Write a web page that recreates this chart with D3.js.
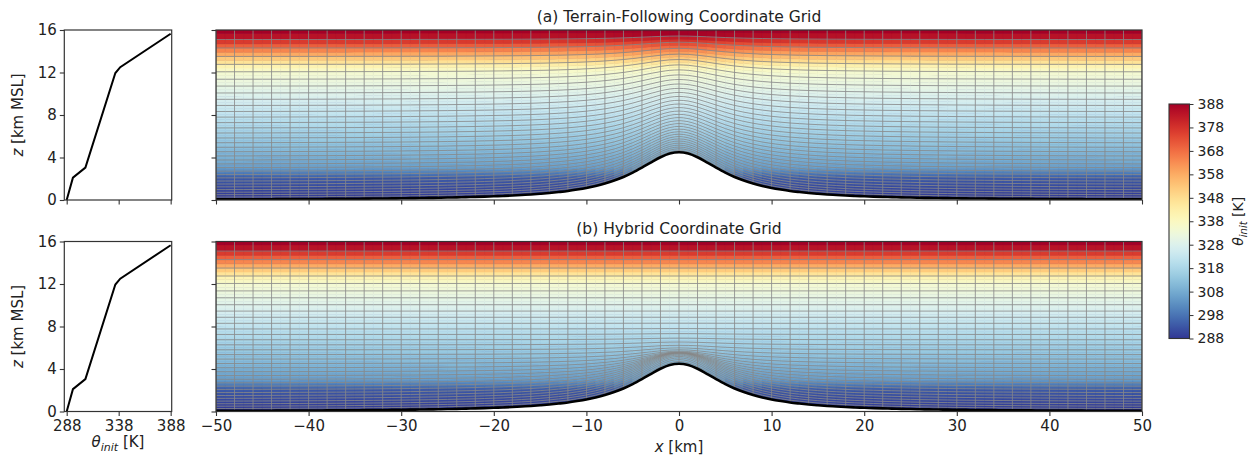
<!DOCTYPE html>
<html><head><meta charset="utf-8">
<script src="https://cdn.jsdelivr.net/npm/d3@7"></script>
<style>body{margin:0;background:#fff} text{font-family:"DejaVu Sans",sans-serif;fill:#222}</style>
</head><body><svg id="c" width="1256" height="459"></svg>
<script>
// ---- data ----
const profileZ = [0, 2.1, 3.05, 11.95, 12.5, 15.65];          // km MSL
const profileTheta = [288, 294, 306, 334.8, 339.5, 388];      // K
const terrainX = d3.range(-50, 51, 1);                        // km
const terrainH = [0.06,0.062,0.065,0.067,0.07,0.073,0.077,0.08,0.084,0.088,
  0.093,0.097,0.102,0.108,0.114,0.12,0.127,0.135,0.143,0.15,
  0.16,0.173,0.185,0.2,0.21,0.23,0.25,0.27,0.29,0.32,
  0.35,0.38,0.42,0.47,0.52,0.585,0.66,0.75,0.85,0.98,
  1.13,1.32,1.55,1.83,2.17,2.58,3.05,3.55,4.02,4.37,
  4.5,
  4.37,4.02,3.55,3.05,2.58,2.17,1.83,1.55,1.32,1.13,
  0.98,0.85,0.75,0.66,0.585,0.52,0.47,0.42,0.38,0.35,
  0.32,0.29,0.27,0.25,0.23,0.21,0.2,0.185,0.173,0.16,
  0.15,0.143,0.135,0.127,0.12,0.114,0.108,0.102,0.097,0.093,
  0.088,0.084,0.08,0.077,0.073,0.07,0.067,0.065,0.062,0.06];
const levels = [0,0.22,0.44,0.67,0.92,1.18,1.45,1.73,2.03,2.34,2.66,3.0,3.35,3.72,4.1,4.5,
  4.92,5.35,5.8,6.27,6.75,7.25,7.77,8.3,8.87,9.45,10.05,10.7,11.35,12.05,12.75,13.5,14.3,15.1,16.3];
const gridLineX = d3.range(-50, 51, 2);
const xTicks = [-50,-40,-30,-20,-10,0,10,20,30,40,50];
const zTicks = [0,4,8,12,16];
const thetaTicks = [288,338,388];
const cbarTicks = [288,298,308,318,328,338,348,358,368,378,388];
const titles = ["(a) Terrain-Following Coordinate Grid","(b) Hybrid Coordinate Grid"];

// ---- setup ----
const svg = d3.select("#c");
const H = levels[levels.length-1];
const thetaOfZ = d3.scaleLinear().domain(profileZ).range(profileTheta).clamp(true);
const color = th => d3.interpolateRdYlBu(1 - (th-288)/100);
const xMain = d3.scaleLinear().domain([-50,50]).range([216,1142]);
const xProf = d3.scaleLinear().domain([285.7,389]).range([64.3,171.7]);
const panels = [
  {top:30, bottom:200, kind:"tf"},
  {top:241.5, bottom:411.5, kind:"hy"}
];
const zh = 11;
function bHybrid(zeta){ if (zeta>=zh) return 0; return Math.pow(Math.cos(Math.PI/2*zeta/zh),6); }
function zPhys(kind, zeta, h){
  return kind==="tf" ? zeta + h*(1 - zeta/H) : zeta + h*bHybrid(zeta);
}
const defs = svg.append("defs");
const SUB = 2; // colour sub-cells per grid cell (vertical)

panels.forEach((p,pi)=>{
  const y = d3.scaleLinear().domain([0,16]).range([p.bottom,p.top]);
  const clipId = "clip"+pi;
  defs.append("clipPath").attr("id",clipId).append("rect")
    .attr("x",xMain(-50)).attr("y",p.top).attr("width",xMain(50)-xMain(-50)).attr("height",p.bottom-p.top);
  const g = svg.append("g").attr("clip-path",`url(#${clipId})`);
  g.append("rect").attr("x",xMain(-50)).attr("y",p.top).attr("width",xMain(50)-xMain(-50)).attr("height",p.bottom-p.top)
    .attr("fill",color(288));
  const cells = [];
  for (let k=0;k<terrainX.length-1;k++){
    for (let j=0;j<levels.length-1;j++){
      for (let s=0;s<SUB;s++){
        const za = levels[j] + (levels[j+1]-levels[j])*s/SUB;
        const zb = levels[j] + (levels[j+1]-levels[j])*(s+1)/SUB;
        const z00=zPhys(p.kind,za,terrainH[k]), z10=zPhys(p.kind,za,terrainH[k+1]);
        const z01=zPhys(p.kind,zb,terrainH[k]), z11=zPhys(p.kind,zb,terrainH[k+1]);
        const zc=(z00+z10+z01+z11)/4;
        cells.push({pts:[[xMain(terrainX[k]),y(z00)],[xMain(terrainX[k+1]),y(z10)],[xMain(terrainX[k+1]),y(z11)],[xMain(terrainX[k]),y(z01)]], c:color(thetaOfZ(zc))});
      }
    }
  }
  g.selectAll("polygon.cell").data(cells).join("polygon").attr("class","cell")
    .attr("points",d=>d.pts.map(q=>q.join(",")).join(" "))
    .attr("fill",d=>d.c).attr("stroke",d=>d.c).attr("stroke-width",0.6);
  const line = d3.line().curve(d3.curveMonotoneX);
  const gridG = g.append("g").attr("stroke","#888").attr("stroke-opacity",0.8).attr("stroke-width",1.0).attr("fill","none");
  levels.slice(1).forEach(zeta=>{
    gridG.append("path").attr("d", line(terrainX.map((xv,i)=>[xMain(xv), y(zPhys(p.kind,zeta,terrainH[i]))])));
  });
  gridLineX.forEach(xv=>{
    const i = terrainX.indexOf(xv);
    gridG.append("line").attr("x1",xMain(xv)).attr("x2",xMain(xv)).attr("y1",y(terrainH[i])).attr("y2",p.top);
  });
  const area = d3.area().curve(d3.curveMonotoneX).x((d,i)=>xMain(terrainX[i])).y0(p.bottom+2).y1(d=>y(d));
  g.append("path").attr("d",area(terrainH)).attr("fill","#fff");
  g.append("path").attr("d",d3.line().curve(d3.curveMonotoneX).x((d,i)=>xMain(terrainX[i])).y(d=>y(d))(terrainH))
    .attr("fill","none").attr("stroke","#000").attr("stroke-width",2.6);
  svg.append("rect").attr("x",xMain(-50)).attr("y",p.top).attr("width",xMain(50)-xMain(-50)).attr("height",p.bottom-p.top)
    .attr("fill","none").attr("stroke","#333").attr("stroke-width",1.2);
  const ay = svg.append("g").attr("transform",`translate(${xMain(-50)},0)`)
    .call(d3.axisLeft(y).tickValues(zTicks).tickSize(4.5).tickFormat(""));
  ay.select(".domain").remove(); ay.selectAll("line").attr("stroke","#333").attr("stroke-width",1.1);
  const ax = svg.append("g").attr("transform",`translate(0,${p.bottom})`)
    .call(d3.axisBottom(xMain).tickValues(xTicks).tickSize(4.5).tickPadding(4)
      .tickFormat(pi===1 ? (d=>d3.format("")(d).replace("-","\u2212")) : ""));
  ax.select(".domain").remove(); ax.selectAll("line").attr("stroke","#333").attr("stroke-width",1.1);
  ax.selectAll("text").attr("font-size",15).style("font-family","DejaVu Sans").attr("fill","#222");
  svg.append("text").attr("x",xMain(0)).attr("y",p.top-8).attr("text-anchor","middle").attr("font-size",15.5).text(titles[pi]);

  const pg = svg.append("g");
  pg.append("path").attr("d", d3.line().x(d=>xProf(d[1])).y(d=>y(d[0]))(profileZ.map((z,i)=>[z,profileTheta[i]])))
    .attr("fill","none").attr("stroke","#000").attr("stroke-width",2);
  pg.append("rect").attr("x",64.3).attr("y",p.top).attr("width",171.7-64.3).attr("height",p.bottom-p.top)
    .attr("fill","none").attr("stroke","#333").attr("stroke-width",1.2);
  const py = svg.append("g").attr("transform","translate(64.3,0)")
    .call(d3.axisLeft(y).tickValues(zTicks).tickSize(4.5).tickPadding(3));
  py.select(".domain").remove(); py.selectAll("line").attr("stroke","#333").attr("stroke-width",1.1);
  py.selectAll("text").attr("font-size",15).style("font-family","DejaVu Sans").attr("fill","#222");
  const px = svg.append("g").attr("transform",`translate(0,${p.bottom})`)
    .call(d3.axisBottom(xProf).tickValues(thetaTicks).tickSize(4.5).tickPadding(4).tickFormat(pi===1?d3.format("d"):""));
  px.select(".domain").remove(); px.selectAll("line").attr("stroke","#333").attr("stroke-width",1.1);
  px.selectAll("text").attr("font-size",15).style("font-family","DejaVu Sans").attr("fill","#222");
  const yl = svg.append("text").attr("transform",`translate(23,${(p.top+p.bottom)/2}) rotate(-90)`)
    .attr("text-anchor","middle").attr("font-size",15);
  yl.append("tspan").attr("font-style","italic").text("z");
  yl.append("tspan").text(" [km MSL]");
});

const xl = svg.append("text").attr("x",xMain(0)).attr("y",452).attr("text-anchor","middle").attr("font-size",15);
xl.append("tspan").attr("font-style","italic").text("x");
xl.append("tspan").text(" [km]");
const tl = svg.append("text").attr("x",118).attr("y",447).attr("text-anchor","middle").attr("font-size",15);
tl.append("tspan").attr("font-style","italic").text("θ");
tl.append("tspan").attr("font-style","italic").attr("font-size",11).attr("dy",4).text("init");
tl.append("tspan").attr("dy",-4).text(" [K]");

const cbX = 1169, cbW = 20.5;
const cbY = d3.scaleLinear().domain([288,388]).range([338.5,104]);
const grad = defs.append("linearGradient").attr("id","cbg").attr("x1",0).attr("y1",1).attr("x2",0).attr("y2",0);
d3.range(0,1.0001,0.02).forEach(t=>grad.append("stop").attr("offset",t).attr("stop-color",color(288+100*t)));
svg.append("rect").attr("x",cbX).attr("y",cbY(388)).attr("width",cbW).attr("height",cbY(288)-cbY(388))
  .attr("fill","url(#cbg)").attr("stroke","#333").attr("stroke-width",1.1);
const cb = svg.append("g").attr("transform",`translate(${cbX+cbW},0)`)
  .call(d3.axisRight(cbY).tickValues(cbarTicks).tickSize(4).tickPadding(4).tickFormat(d3.format("d")));
cb.select(".domain").remove(); cb.selectAll("line").attr("stroke","#333");
cb.selectAll("text").attr("font-size",14).style("font-family","DejaVu Sans").attr("fill","#222");
const cl = svg.append("text").attr("transform",`translate(1243,${(cbY(288)+cbY(388))/2}) rotate(-90)`)
  .attr("text-anchor","middle").attr("font-size",14);
cl.append("tspan").attr("font-style","italic").text("θ");
cl.append("tspan").attr("font-style","italic").attr("font-size",10).attr("dy",4).text("init");
cl.append("tspan").attr("dy",-4).text(" [K]");
</script></body></html>
